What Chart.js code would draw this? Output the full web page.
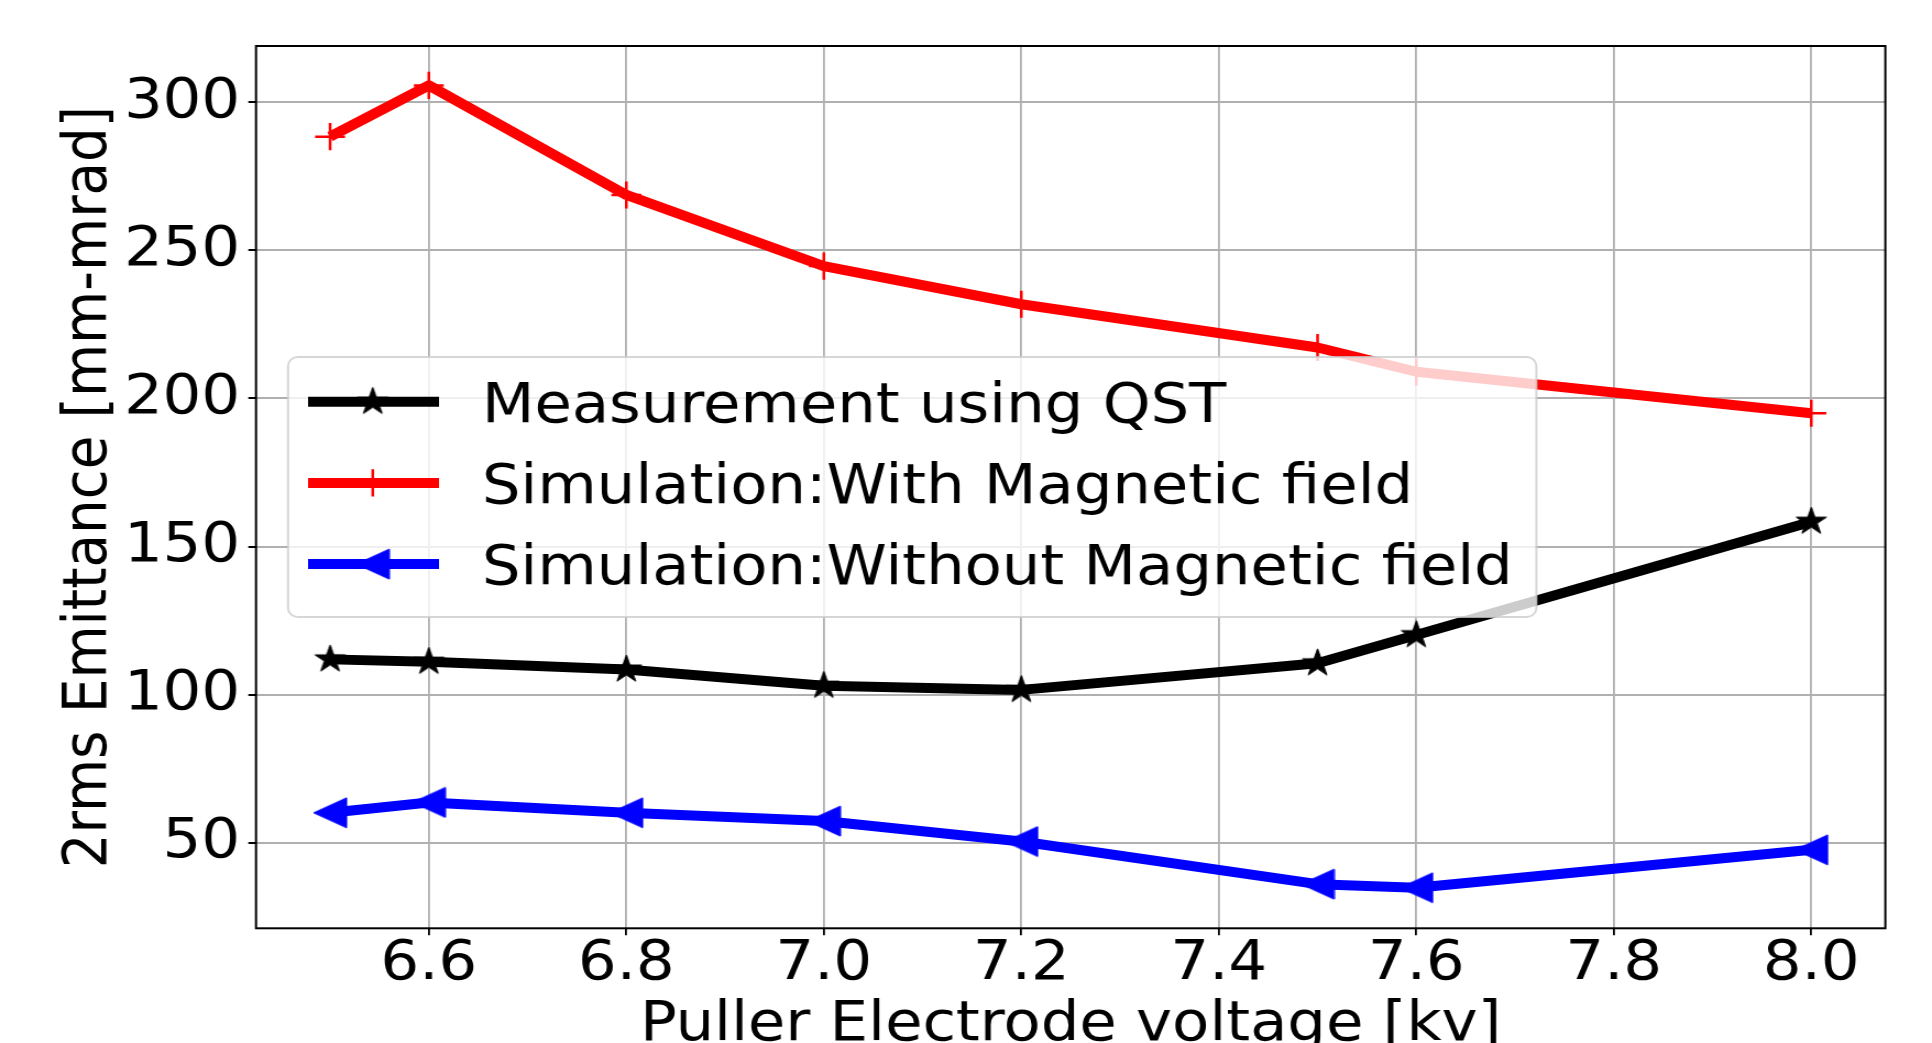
<!DOCTYPE html>
<html>
<head>
<meta charset="utf-8">
<title>2rms Emittance vs Puller Electrode voltage</title>
<script src="https://cdn.jsdelivr.net/npm/chart.js@4.4.0/dist/chart.umd.min.js"></script>
<style>
  html, body { margin: 0; padding: 0; background: #fff; overflow: hidden; }
  #chart { display: block; }
</style>
</head>
<body>
<!-- the reference is stretched ~1.1x horizontally, so draw narrower and let CSS stretch it -->
<canvas id="chart" width="1756" height="1043" style="width:1932px;height:1043px"></canvas>
<script>
const voltage = [6.5, 6.6, 6.8, 7.0, 7.2, 7.5, 7.6, 8.0];
const measuredQST = [111.9, 111.1, 108.5, 103.0, 101.6, 110.6, 120.1, 158.4];
const simWithField = [288.4, 305.7, 268.7, 244.7, 231.8, 217.2, 209.0, 195.0];
const simWithoutField = [60.1, 63.6, 60.1, 57.3, 50.4, 36.0, 34.8, 47.6];
const xTickValues = [6.6, 6.8, 7.0, 7.2, 7.4, 7.6, 7.8, 8.0];
const yTickValues = [50, 100, 150, 200, 250, 300];
const seriesLabels = ['Measurement using QST', 'Simulation:With Magnetic field', 'Simulation:Without Magnetic field'];

const FONT_SIZE = 55.3;
const YTITLE_SIZE = 54.6;
const LINE_W = 10;
Chart.defaults.font.family = "'DejaVu Sans', sans-serif";
Chart.defaults.color = '#000';

// filled 5 point star, like matplotlib '*'
function makeStar(R, color) {
  const s = Math.ceil(2 * R + 4);
  const c = document.createElement('canvas');
  c.width = s; c.height = s;
  const g = c.getContext('2d');
  g.translate(s / 2, s / 2);
  g.beginPath();
  for (let i = 0; i < 10; i++) {
    const r = i % 2 === 0 ? R : R * 0.381966;
    const ang = -Math.PI / 2 + i * Math.PI / 5;
    if (i === 0) g.moveTo(r * Math.cos(ang), r * Math.sin(ang));
    else g.lineTo(r * Math.cos(ang), r * Math.sin(ang));
  }
  g.closePath();
  g.fillStyle = color; g.fill();
  g.strokeStyle = color; g.lineWidth = 1; g.stroke();
  return c;
}

// left pointing triangle, like matplotlib '<'
function makeLeftTriangle(size, color) {
  const c = document.createElement('canvas');
  c.width = size + 2; c.height = size + 2;
  const g = c.getContext('2d');
  g.beginPath();
  g.moveTo(1, 1 + size / 2);
  g.lineTo(1 + size, 1);
  g.lineTo(1 + size, 1 + size);
  g.closePath();
  g.fillStyle = color; g.fill();
  g.strokeStyle = color; g.lineWidth = 1; g.stroke();
  return c;
}

const starMarker = makeStar(14.5, '#000000');
const triMarker = makeLeftTriangle(30, '#0000ff');

function toPoints(ys) {
  return voltage.map((v, i) => ({ x: v, y: ys[i] }));
}

function roundedRect(ctx, x, y, w, h, r) {
  ctx.beginPath();
  ctx.moveTo(x + r, y);
  ctx.arcTo(x + w, y, x + w, y + h, r);
  ctx.arcTo(x + w, y + h, x, y + h, r);
  ctx.arcTo(x, y + h, x, y, r);
  ctx.arcTo(x, y, x + w, y, r);
  ctx.closePath();
}

// frame around the axes and a legend drawn inside the plot
const frameAndLegend = {
  id: 'frameAndLegend',
  afterDatasetsDraw(chart) {
    const ctx = chart.ctx;
    const a = chart.chartArea;
    ctx.save();
    ctx.strokeStyle = '#000';
    ctx.lineWidth = 2;
    ctx.strokeRect(a.left, a.top, a.right - a.left, a.bottom - a.top);

    roundedRect(ctx, 261.8, 357, 1134.6, 260, 9);
    ctx.fillStyle = 'rgba(255,255,255,0.8)';
    ctx.fill();
    ctx.strokeStyle = 'rgba(204,204,204,0.8)';
    ctx.lineWidth = 2;
    ctx.stroke();

    chart.data.datasets.forEach((ds, i) => {
      const y = 401.7 + i * 81.2;
      ctx.beginPath();
      ctx.moveTo(280, y);
      ctx.lineTo(399, y);
      ctx.strokeStyle = ds.borderColor;
      ctx.lineWidth = ds.borderWidth;
      ctx.lineCap = 'butt';
      ctx.stroke();
      const mx = 338.8;
      if (typeof ds.pointStyle === 'object') {
        ctx.drawImage(ds.pointStyle, mx - ds.pointStyle.width / 2, y - ds.pointStyle.height / 2);
      } else {
        const r = ds.pointRadius;
        ctx.beginPath();
        ctx.moveTo(mx - r, y); ctx.lineTo(mx + r, y);
        ctx.moveTo(mx, y - r); ctx.lineTo(mx, y + r);
        ctx.strokeStyle = ds.pointBorderColor;
        ctx.lineWidth = ds.pointBorderWidth;
        ctx.stroke();
      }
      ctx.fillStyle = '#000';
      ctx.font = FONT_SIZE + "px 'DejaVu Sans'";
      ctx.textAlign = 'left';
      ctx.textBaseline = 'alphabetic';
      ctx.fillText(ds.label, 438.0, y + 20.1);
    });
    ctx.restore();
  }
};

const ctx = document.getElementById('chart').getContext('2d');
const chart = new Chart(ctx, {
  type: 'line',
  data: {
    datasets: [
      {
        label: seriesLabels[0],
        data: toPoints(measuredQST),
        borderColor: '#000000',
        backgroundColor: '#000000',
        borderWidth: LINE_W,
        borderJoinStyle: 'round',
        pointStyle: starMarker,
        pointRadius: 14
      },
      {
        label: seriesLabels[1],
        data: toPoints(simWithField),
        borderColor: '#ff0000',
        backgroundColor: '#ff0000',
        borderWidth: LINE_W,
        borderJoinStyle: 'round',
        pointStyle: 'cross',
        pointRadius: 13.6,
        pointBorderColor: '#ff0000',
        pointBorderWidth: 2.5
      },
      {
        label: seriesLabels[2],
        data: toPoints(simWithoutField),
        borderColor: '#0000ff',
        backgroundColor: '#0000ff',
        borderWidth: LINE_W,
        borderJoinStyle: 'round',
        pointStyle: triMarker,
        pointRadius: 15
      }
    ]
  },
  options: {
    responsive: false,
    animation: false,
    devicePixelRatio: 1,
    events: [],
    layout: { padding: { top: 46, right: 42.4, left: 0, bottom: 0 } },
    plugins: {
      legend: { display: false },
      tooltip: { enabled: false }
    },
    scales: {
      x: {
        type: 'linear',
        min: 6.425,
        max: 8.075,
        bounds: 'data',
        afterBuildTicks: s => { s.ticks = xTickValues.map(v => ({ value: v })); },
        afterFit: s => { s.height = 114.7; },
        ticks: {
          color: '#000',
          font: { size: FONT_SIZE, lineHeight: 1.0 },
          padding: 2,
          maxRotation: 0,
          autoSkip: false,
          callback: v => Number(v).toFixed(1)
        },
        grid: { color: '#b0b0b0', lineWidth: 1.8, tickColor: '#000', tickLength: 7, tickWidth: 1.8 },
        border: { display: false },
        title: {
          display: true,
          text: 'Puller Electrode voltage [kv]',
          color: '#000',
          font: { size: FONT_SIZE, lineHeight: 0.62 },
          padding: { top: 0, bottom: 0 }
        }
      },
      y: {
        type: 'linear',
        min: 21.1,
        max: 319.0,
        bounds: 'data',
        afterBuildTicks: s => { s.ticks = yTickValues.map(v => ({ value: v })); },
        afterFit: s => { s.width = 232.7; },
        ticks: {
          color: '#000',
          font: { size: FONT_SIZE },
          padding: 7.5,
          callback: v => String(v)
        },
        grid: { color: '#b0b0b0', lineWidth: 2, tickColor: '#000', tickLength: 7, tickWidth: 2 },
        border: { display: false },
        title: {
          display: true,
          text: '2rms Emittance [mm-mrad]',
          color: '#000',
          font: { size: YTITLE_SIZE, lineHeight: 0.62 },
          padding: { top: 64.5, bottom: 0 }
        }
      }
    }
  },
  plugins: [frameAndLegend]
});
</script>
</body>
</html>
